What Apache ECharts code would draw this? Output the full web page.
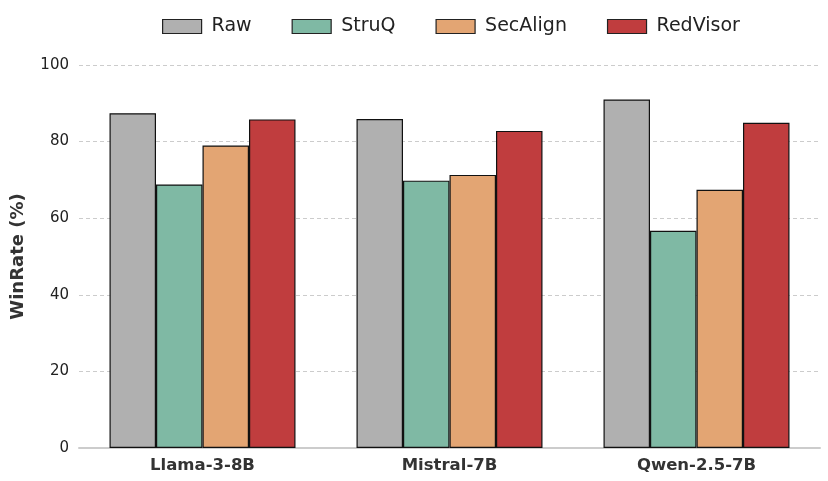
<!DOCTYPE html>
<html><head><meta charset="utf-8">
<script src="https://cdn.jsdelivr.net/npm/echarts@6/dist/echarts.min.js"></script>
<style>html,body{margin:0;padding:0;background:#fff}#c{width:828px;height:481px}</style>
</head><body><div id="c"></div>
<script>
const categories = ['Llama-3-8B', 'Mistral-7B', 'Qwen-2.5-7B'];
const seriesNames = ['Raw', 'StruQ', 'SecAlign', 'RedVisor'];
const raw = [87.4, 85.9, 91.0];
const struq = [68.8, 69.8, 56.7];
const secalign = [79.0, 71.3, 67.4];
const redvisor = [85.8, 82.8, 84.9];
const colors = ['#b0b0b0', '#7fb9a4', '#e3a573', '#c03d3e'];
const values = [raw, struq, secalign, redvisor];

const chart = echarts.init(document.getElementById('c'));
chart.setOption({
  animation: false,
  textStyle: { fontFamily: 'DejaVu Sans' },
  legend: {
    top: 12, left: 157, icon: 'rect', itemWidth: 39, itemHeight: 14, itemGap: 40,
    itemStyle: { borderColor: '#222', borderWidth: 1.2 },
    textStyle: { fontSize: 19, color: '#222', fontFamily: 'DejaVu Sans', padding: [0, 0, 0, 5] },
    data: seriesNames
  },
  grid: { left: 79, right: 8, top: 65, bottom: 33 },
  xAxis: {
    type: 'category', data: categories,
    axisLine: { lineStyle: { color: '#cccccc', width: 2 } },
    axisTick: { show: false },
    axisLabel: { fontSize: 16.5, fontWeight: 'bold', color: '#333', margin: 9 }
  },
  yAxis: {
    type: 'value', min: 0, max: 100, interval: 20,
    name: 'WinRate (%)', nameLocation: 'middle', nameGap: 52,
    nameTextStyle: { fontSize: 18, fontWeight: 'bold', color: '#333' },
    axisLine: { show: false }, axisTick: { show: false },
    axisLabel: { fontSize: 15, color: '#222', margin: 10 },
    splitLine: { lineStyle: { type: [4, 3], color: '#cccccc', width: 1 } }
  },
  series: seriesNames.map((n, i) => ({
    name: n, type: 'bar', data: values[i],
    barGap: '0%', barCategoryGap: '24.7%',
    itemStyle: { color: colors[i], borderColor: '#111', borderWidth: 1.2 }
  }))
});
</script></body></html>
